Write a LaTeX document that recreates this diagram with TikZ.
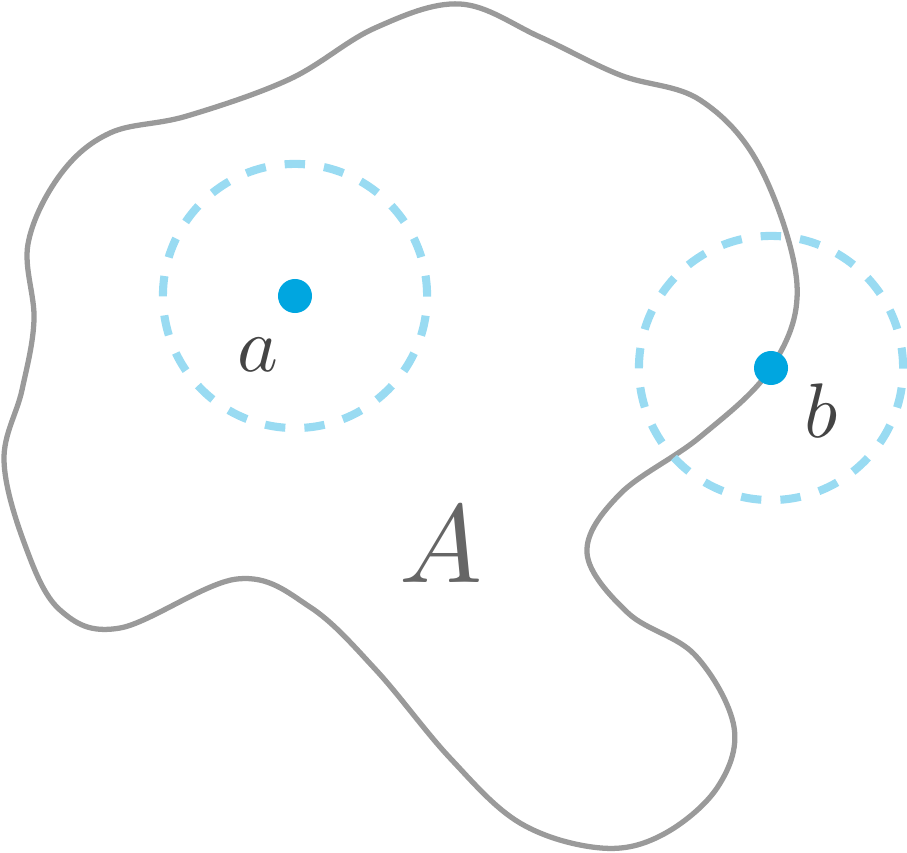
\documentclass[tikz,border=0pt]{standalone}
\usepackage{xcolor}
\usetikzlibrary{positioning, calc}
\definecolor{blobgray}{RGB}{154,154,154}
\definecolor{ballblue}{RGB}{153,219,242}
\definecolor{dotblue}{RGB}{0,166,224}
\definecolor{labelgray}{RGB}{68,68,68}
\definecolor{setgray}{RGB}{102,102,102}

\begin{document}
\begin{tikzpicture}[x=0.01cm,y=-0.01cm,
  blob/.style={draw=blobgray, line width=1.5pt},
  ball/.style={draw=ballblue, line width=2.3pt, dash pattern=on 5.8pt off 5.43pt},
  dot/.style={circle, fill=dotblue, inner sep=0pt, minimum size=0.34cm},
  lbl/.style={text=labelgray, scale=2.2}]
  \useasboundingbox (0,0) rectangle (907,852);
  % the set A
  \draw[blob] plot[smooth cycle, tension=0.6] coordinates {
    (110,133) (187,116) (290,79) (375,28) (460,4) (540,37) (620,75)
    (700,100) (760,167) (797,285) (771,368) (700,437) (620,494)
    (587,553) (628,613) (695,655) (734,727) (717,788) (662,835) (601,848)
    (520,823) (450,758) (376,670) (310,607) (237,579) (120,628)
    (60,610) (25,545) (4,460) (22,390) (34,320) (28,244) (60,175)};
  \coordinate (ca) at (295,296);
  \coordinate (cb) at (771,368);
  % neighbourhoods
  \draw[ball] (ca) circle[radius=1.32cm];
  \draw[ball] (cb) circle[radius=1.32cm];
  \node[dot] (a) at (ca) {};
  \node[dot] (b) at (cb) {};
  \node[lbl] (la) at ($(a)+(-37,59)$) {$a$};
  \node[lbl] (lb) at ($(b)+(50,43)$) {$b$};
  \node[text=setgray, scale=3.15] (set) at (441,545) {$A$};
\end{tikzpicture}
\end{document}
